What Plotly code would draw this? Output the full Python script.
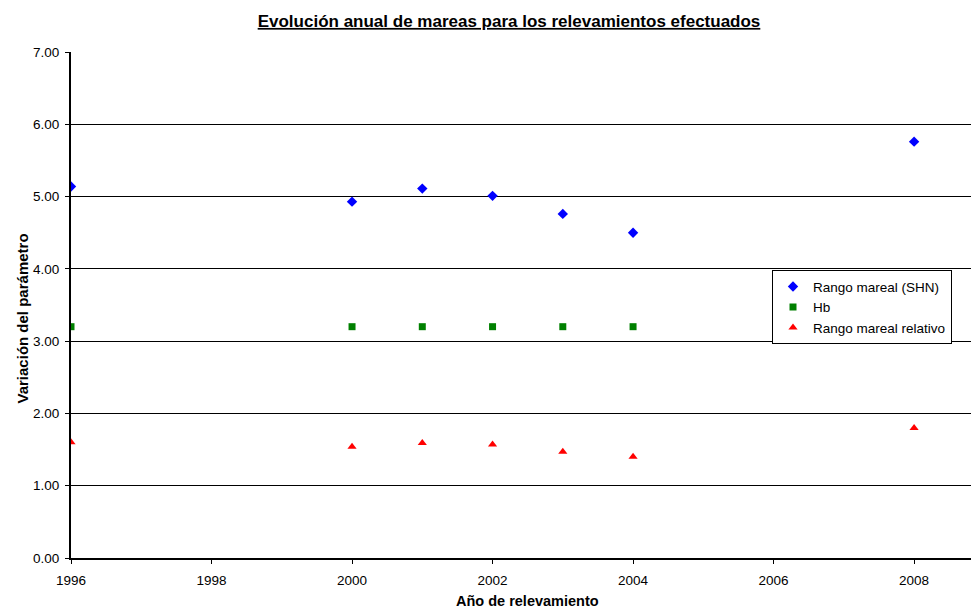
import plotly.graph_objects as go

years = [1996, 2000, 2001, 2002, 2003, 2004, 2008]
rango_shn = [5.14, 4.93, 5.11, 5.01, 4.76, 4.50, 5.76]
hb_years = [1996, 2000, 2001, 2002, 2003, 2004]
hb = [3.20, 3.20, 3.20, 3.20, 3.20, 3.20]
rango_rel = [1.60, 1.54, 1.59, 1.57, 1.47, 1.40, 1.80]

FONT = "Liberation Sans, Arial, sans-serif"

fig = go.Figure()
fig.add_trace(go.Scatter(x=years, y=rango_shn, mode="markers", name="Rango mareal (SHN)",
                         marker=dict(symbol="diamond", size=8, color="#0000FF")))
fig.add_trace(go.Scatter(x=hb_years, y=hb, mode="markers", name="Hb",
                         marker=dict(symbol="square", size=7, color="#008000")))
fig.add_trace(go.Scatter(x=years, y=rango_rel, mode="markers", name="Rango mareal relativo",
                         marker=dict(symbol="triangle-up", size=8, color="#FF0000")))

fig.update_layout(
    width=971, height=608,
    margin=dict(l=71, r=0, t=52, b=50),
    paper_bgcolor="white", plot_bgcolor="white",
    font=dict(family=FONT, size=13, color="black"),
    title=dict(text="<b>Evolución anual de mareas para los relevamientos efectuados</b>",
               x=509 / 971, xanchor="center", y=1 - 21 / 608, yanchor="middle",
               font=dict(family=FONT, size=17, color="black", lineposition="under")),
    xaxis=dict(range=[1996, 2008.81], tick0=1996, dtick=2, showgrid=False,
               showline=True, linecolor="black", linewidth=2, ticks="outside",
               ticklen=4, tickcolor="black", zeroline=False, ticklabelstandoff=5,
               tickfont=dict(size=13.5)),
    yaxis=dict(range=[0, 7], dtick=1, tickformat=".2f", showgrid=True, gridcolor="black",
               gridwidth=1, showline=True, linecolor="black", linewidth=2, ticks="outside",
               ticklen=4, tickcolor="black", zeroline=False, ticklabelstandoff=3,
               tickfont=dict(size=13.5)),
    legend=dict(x=(772 - 71) / 900, y=(558.5 - 270.7) / 506, xanchor="left", yanchor="top",
                bgcolor="white", bordercolor="black", borderwidth=1,
                font=dict(family=FONT, size=13.5, color="black"), itemwidth=30),
    showlegend=True,
    annotations=[
        dict(text="<b>Año de relevamiento</b>", xref="paper", yref="paper",
             x=527 / 971 * 971 / 900 - 71 / 900, y=-(601 - 558.5) / 506,
             xanchor="center", yanchor="middle", showarrow=False,
             font=dict(family=FONT, size=14.5, color="black")),
        dict(text="<b>Variación del parámetro</b>", xref="paper", yref="paper",
             x=-(71 - 22) / 900, y=(558.5 - 319) / 506, textangle=-90,
             xanchor="center", yanchor="middle", showarrow=False,
             font=dict(family=FONT, size=15, color="black")),
    ],
)

fig.write_html("out.html")
